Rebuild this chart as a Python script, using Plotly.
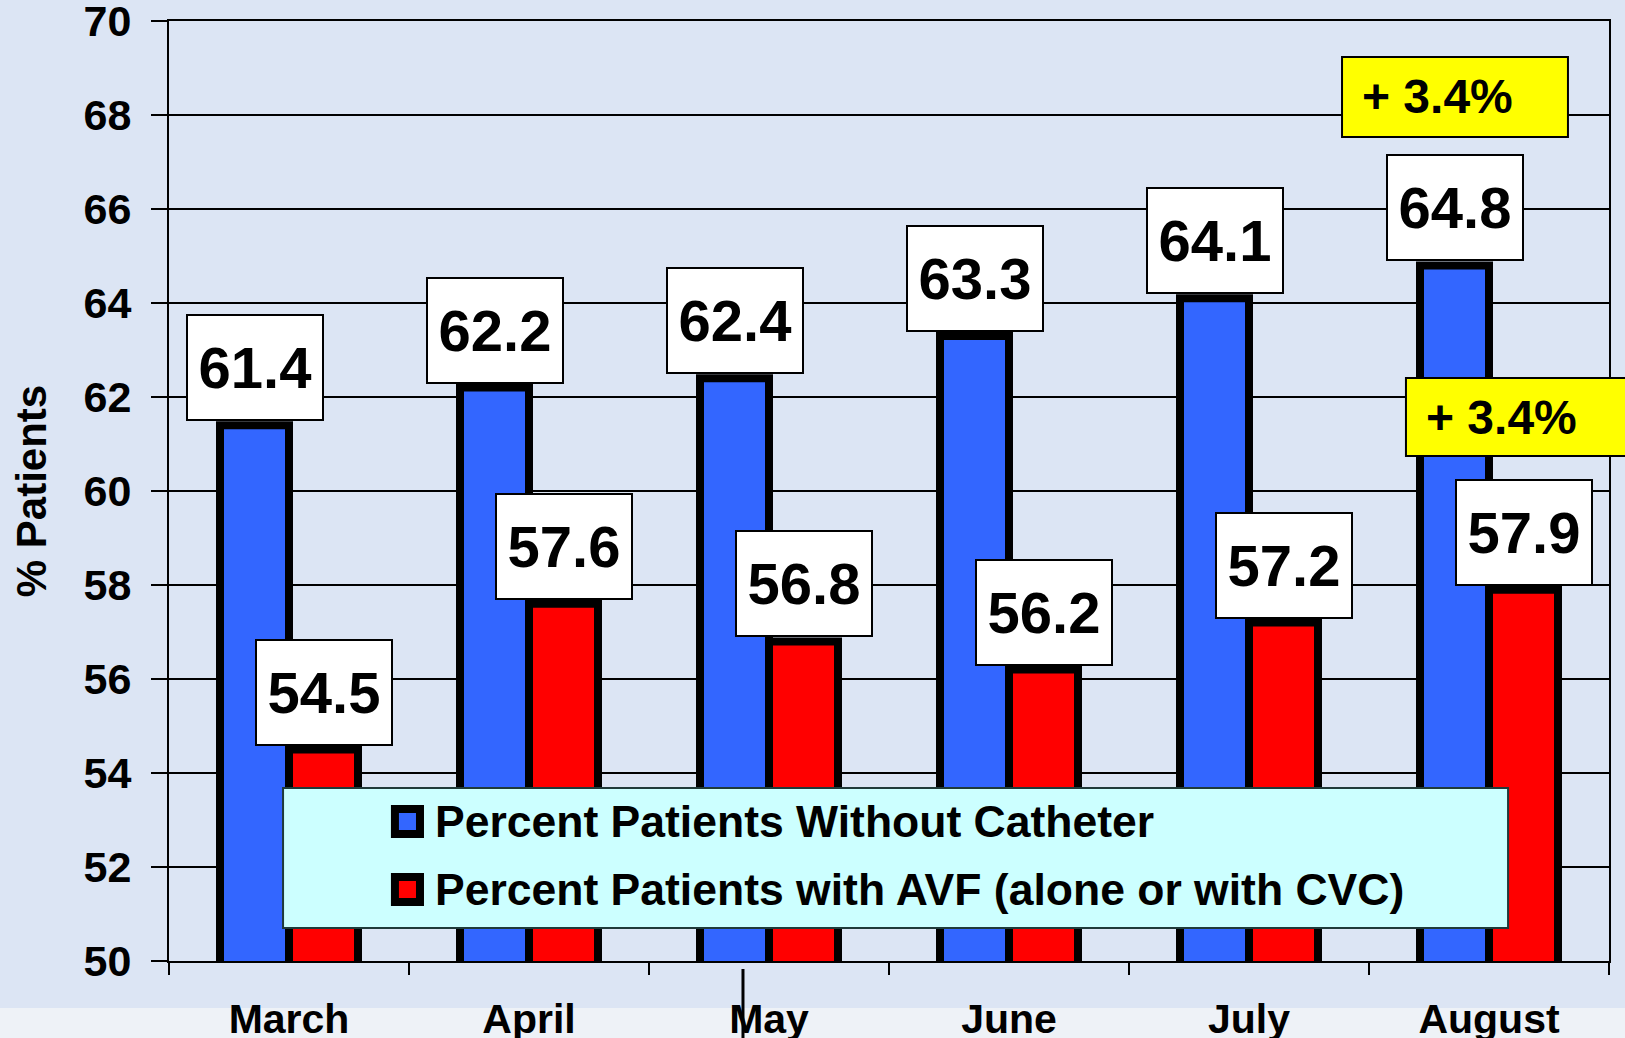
import plotly.graph_objects as go

# ---------------- data ----------------
months = ["March", "April", "May", "June", "July", "August"]
without_catheter = [61.4, 62.2, 62.4, 63.3, 64.1, 64.8]
with_avf = [54.5, 57.6, 56.8, 56.2, 57.2, 57.9]
series_names = ["Percent Patients Without Catheter",
                "Percent Patients with AVF (alone or with CVC)"]
increase_labels = ["+ 3.4%", "+ 3.4%"]
y_title = "% Patients"

# ---------------- styles ----------------
FONT = "Liberation Sans, Arial, sans-serif"
BLUE = "#3366ff"
RED = "#ff0000"
BG = "#dce5f4"
BAND = "#eef2f7"
LEGEND_BG = "#ccffff"
YELLOW = "#ffff00"
BARGAP = 0.425
OFF = (1 - BARGAP) / 4  # half bar offset in category units

fig = go.Figure()
for name, vals, col in zip(series_names, [without_catheter, with_avf], [BLUE, RED]):
    fig.add_trace(go.Bar(
        x=months, y=vals, name=name,
        marker=dict(color=col, line=dict(color="black", width=8)),
        showlegend=False,
    ))

annotations = []
# value label boxes
for sign, vals in zip([-1, 1], [without_catheter, with_avf]):
    for i, v in enumerate(vals):
        annotations.append(dict(
            x=i + sign * OFF, y=v, xref="x", yref="y",
            text=f"{v:.1f}", showarrow=False,
            yanchor="bottom", yshift=4,
            font=dict(family=FONT, size=58, color="black", weight="bold"),
            bgcolor="white", bordercolor="black", borderwidth=2, borderpad=2,
            width=130, height=99,
        ))

shapes = []
# lighter band at bottom of slide
shapes.append(dict(type="rect", xref="paper", yref="paper", x0=-0.2, x1=1.2,
                   y0=-0.2, y1=-0.05, fillcolor=BAND, line=dict(width=0), layer="below"))
# stray vertical line near May label
shapes.append(dict(type="line", xref="paper", yref="paper", x0=0.3986, x1=0.3986,
                   y0=-0.0085, y1=-0.1, line=dict(color="black", width=3), layer="above"))

# yellow increase boxes
yellow_boxes = [
    dict(x0=0.8146, x1=0.9715, y0=0.8766, y1=0.9617),
    dict(x0=0.8590, x1=1.05, y0=0.5372, y1=0.6202),
]
for box, lab in zip(yellow_boxes, increase_labels):
    shapes.append(dict(type="rect", xref="paper", yref="paper", **box,
                       fillcolor=YELLOW, line=dict(color="black", width=2), layer="above"))
    annotations.append(dict(
        x=box["x0"] + 0.0125, y=(box["y0"] + box["y1"]) / 2, xref="paper", yref="paper",
        text=lab, showarrow=False, xanchor="left", yanchor="middle",
        font=dict(family=FONT, size=48, color="black", weight="bold"),
    ))

# legend box (manual, for large swatches)
shapes.append(dict(type="rect", xref="paper", yref="paper", x0=0.0792, x1=0.9299,
                   y0=0.0351, y1=0.184, fillcolor=LEGEND_BG,
                   line=dict(color="#1f3a3a", width=2), layer="above"))
legend_rows = [(0.1484, BLUE), (0.0761, RED)]
for (yc, col), name in zip(legend_rows, series_names):
    shapes.append(dict(type="rect", xref="paper", yref="paper", x0=0.1569, x1=0.1743,
                       y0=yc - 0.0133, y1=yc + 0.0133, fillcolor=col,
                       line=dict(color="black", width=8), layer="above"))
    annotations.append(dict(
        x=0.1833, y=yc, xref="paper", yref="paper", text=name, showarrow=False,
        xanchor="left", yanchor="middle",
        font=dict(family=FONT, size=44.5, color="black", weight="bold"),
    ))

fig.update_layout(
    width=1625, height=1038,
    margin=dict(l=169, r=16, t=21, b=77),
    paper_bgcolor=BG, plot_bgcolor=BG,
    barmode="group", bargap=BARGAP, bargroupgap=0,
    font=dict(family=FONT, color="black"),
    annotations=annotations, shapes=shapes,
    showlegend=False,
)
fig.update_xaxes(
    type="category", tickson="boundaries", ticks="outside", ticklen=12, tickwidth=2,
    tickcolor="black", showline=True, linecolor="black", linewidth=2, mirror=True,
    showgrid=False, ticklabelstandoff=21, automargin=False, ticklabeloverflow="allow",
    tickfont=dict(family=FONT, size=41, color="black", weight="bold"),
)
fig.update_yaxes(
    range=[50, 70], dtick=2, ticks="outside", ticklen=16, tickwidth=2, tickcolor="black",
    showline=True, linecolor="black", linewidth=2, mirror=True,
    showgrid=True, gridcolor="black", gridwidth=2, zeroline=False,
    ticklabelstandoff=11, automargin=False, ticklabeloverflow="allow",
    tickfont=dict(family=FONT, size=43, color="black", weight="bold"),
    title=dict(text=y_title, standoff=24,
               font=dict(family=FONT, size=42, color="black", weight="bold")),
)

fig.write_html("out.html", config={"displayModeBar": False},
               post_script="document.body.style.margin='0';")
